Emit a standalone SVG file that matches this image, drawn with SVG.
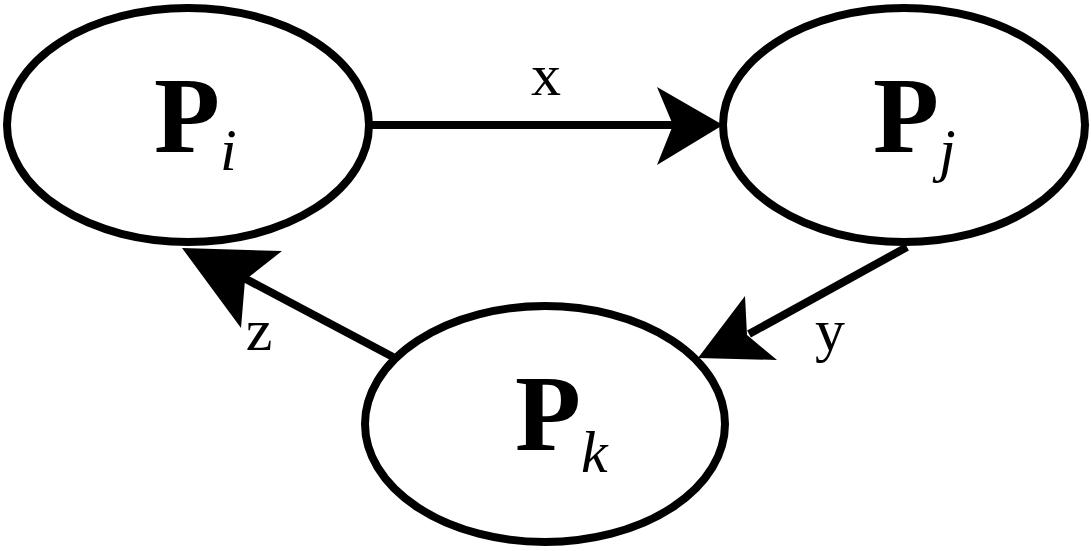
<svg xmlns="http://www.w3.org/2000/svg" width="1091" height="551" viewBox="0 0 1091 551">
<style>
.node ellipse{fill:#fff;stroke:#000;stroke-width:8}
.conn line{stroke:#000;stroke-width:8}
.conn polygon{fill:#000;stroke:none}
.lab{font-family:"Liberation Serif",serif;fill:#000}
.P{font-weight:bold;font-size:108px}
.sub{font-style:italic;font-size:60px}
.lbl{font-family:"Liberation Serif",serif;font-size:60px;fill:#000;text-anchor:middle}
</style>
<rect width="1091" height="551" fill="#fff"/>
<g id="connectors" class="conn">
<line x1="370" y1="125" x2="676" y2="125"/>
<polygon points="723,125 657,87 673,125 657,165"/>
<line x1="907" y1="247" x2="749" y2="334"/>
<polygon points="698,358 745,296 747,335 777,360"/>
<line x1="393" y1="357" x2="244" y2="278"/>
<polygon points="182,248 282,251 245,280 241,328"/>
<text class="lbl" x="546" y="95">x</text>
<text class="lbl" x="830" y="350">y</text>
<text class="lbl" x="259" y="350">z</text>
</g>
<g id="node-Pi" class="node">
<ellipse cx="188" cy="125" rx="181" ry="117"/>
<text class="lab" x="154" y="152"><tspan class="P">P</tspan><tspan class="sub" x="220" y="170">i</tspan></text>
</g>
<g id="node-Pj" class="node">
<ellipse cx="904" cy="125" rx="181" ry="117"/>
<text class="lab" x="873" y="152"><tspan class="P">P</tspan><tspan class="sub" x="939" y="170">j</tspan></text>
</g>
<g id="node-Pk" class="node">
<ellipse cx="545" cy="424" rx="180" ry="118"/>
<text class="lab" x="515" y="450"><tspan class="P">P</tspan><tspan class="sub" x="581" y="472">k</tspan></text>
</g>
</svg>
